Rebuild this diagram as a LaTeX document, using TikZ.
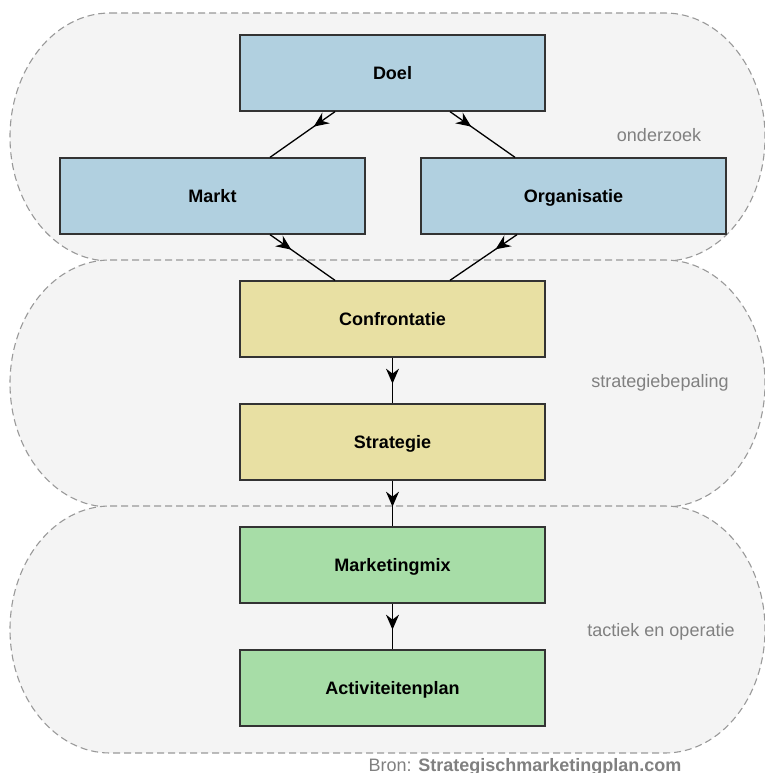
\documentclass[tikz,border=0pt]{standalone}
\usepackage{fontspec}
\setmainfont{Liberation Sans}
\usetikzlibrary{arrows.meta,decorations.markings}
\definecolor{bgfill}{HTML}{F4F4F4}
\definecolor{dashcol}{HTML}{999999}
\definecolor{boxblue}{HTML}{B1D0E0}
\definecolor{boxyellow}{HTML}{E8E0A3}
\definecolor{boxgreen}{HTML}{A7DDA7}
\definecolor{labelgray}{HTML}{808080}
\definecolor{edgecol}{HTML}{333333}
\tikzset{
  zone/.style={fill=bgfill, draw=dashcol, line width=1.1pt, dash pattern=on 7pt off 4pt},
  box/.style={draw=edgecol, line width=1.3pt, minimum width=305pt, minimum height=76pt, inner sep=0pt,
    font=\fontsize{18}{20}\selectfont\bfseries, text=black, text height=13pt, text depth=0pt},
  bluebox/.style={box, fill=boxblue},
  yellowbox/.style={box, fill=boxyellow},
  greenbox/.style={box, fill=boxgreen},
  zonelabel/.style={font=\fontsize{18}{20}\selectfont, text=labelgray},
  conn/.style={line width=1.3pt, draw=black, postaction={decorate},
    decoration={markings, mark=at position 26pt with {\arrow{Stealth[length=15pt,width=13pt,inset=5pt]}}}}
}
\begin{document}
\begin{tikzpicture}[x=1pt,y=-1pt]
\useasboundingbox (0,0) rectangle (764,773);
% zones
\path[zone] (110,13) -- (665,13) arc[start angle=-90,end angle=90,x radius=100,y radius=124]
  -- (110,261) arc[start angle=90,end angle=270,x radius=100,y radius=124] -- cycle;
\path[zone] (110,260) -- (665,260) arc[start angle=-90,end angle=90,x radius=100,y radius=123.5]
  -- (110,507) arc[start angle=90,end angle=270,x radius=100,y radius=123.5] -- cycle;
\path[zone] (110,506) -- (665,506) arc[start angle=-90,end angle=90,x radius=100,y radius=123.5]
  -- (110,753) arc[start angle=90,end angle=270,x radius=100,y radius=123.5] -- cycle;
% labels
\node[zonelabel] (lbl1) at (659,135) {onderzoek};
\node[zonelabel] (lbl2) at (660,383) {strategiebepaling};
\node[zonelabel] (lbl3) at (661,632) {tactiek en operatie};
% boxes
\node[bluebox] (doel) at (392.5,73) {Doel};
\node[bluebox] (markt) at (212.5,196) {Markt};
\node[bluebox] (org) at (573.5,196) {Organisatie};
\node[yellowbox] (conf) at (392.5,319) {Confrontatie};
\node[yellowbox] (strat) at (392.5,442) {Strategie};
\node[greenbox] (mix) at (392.5,565) {Marketingmix};
\node[greenbox] (act) at (392.5,688) {Activiteitenplan};
% connectors
\draw[conn] ([xshift=-57.5pt]doel.south) -- ([xshift=57.5pt]markt.north);
\draw[conn] ([xshift=57.5pt]doel.south) -- ([xshift=-58.5pt]org.north);
\draw[conn] ([xshift=57.5pt]markt.south) -- ([xshift=-57.5pt]conf.north);
\draw[conn] ([xshift=-56.5pt]org.south) -- ([xshift=57.5pt]conf.north);
\draw[conn] (conf.south) -- (strat.north);
\draw[conn] (strat.south) -- (mix.north);
\draw[conn] (mix.south) -- (act.north);
% footer
\node[anchor=base, font=\fontsize{18}{20}\selectfont, text=labelgray, inner sep=0pt] (bron) at (525,771)
  {Bron: \textbf{Strategischmarketingplan.com}};
\end{tikzpicture}
\end{document}
